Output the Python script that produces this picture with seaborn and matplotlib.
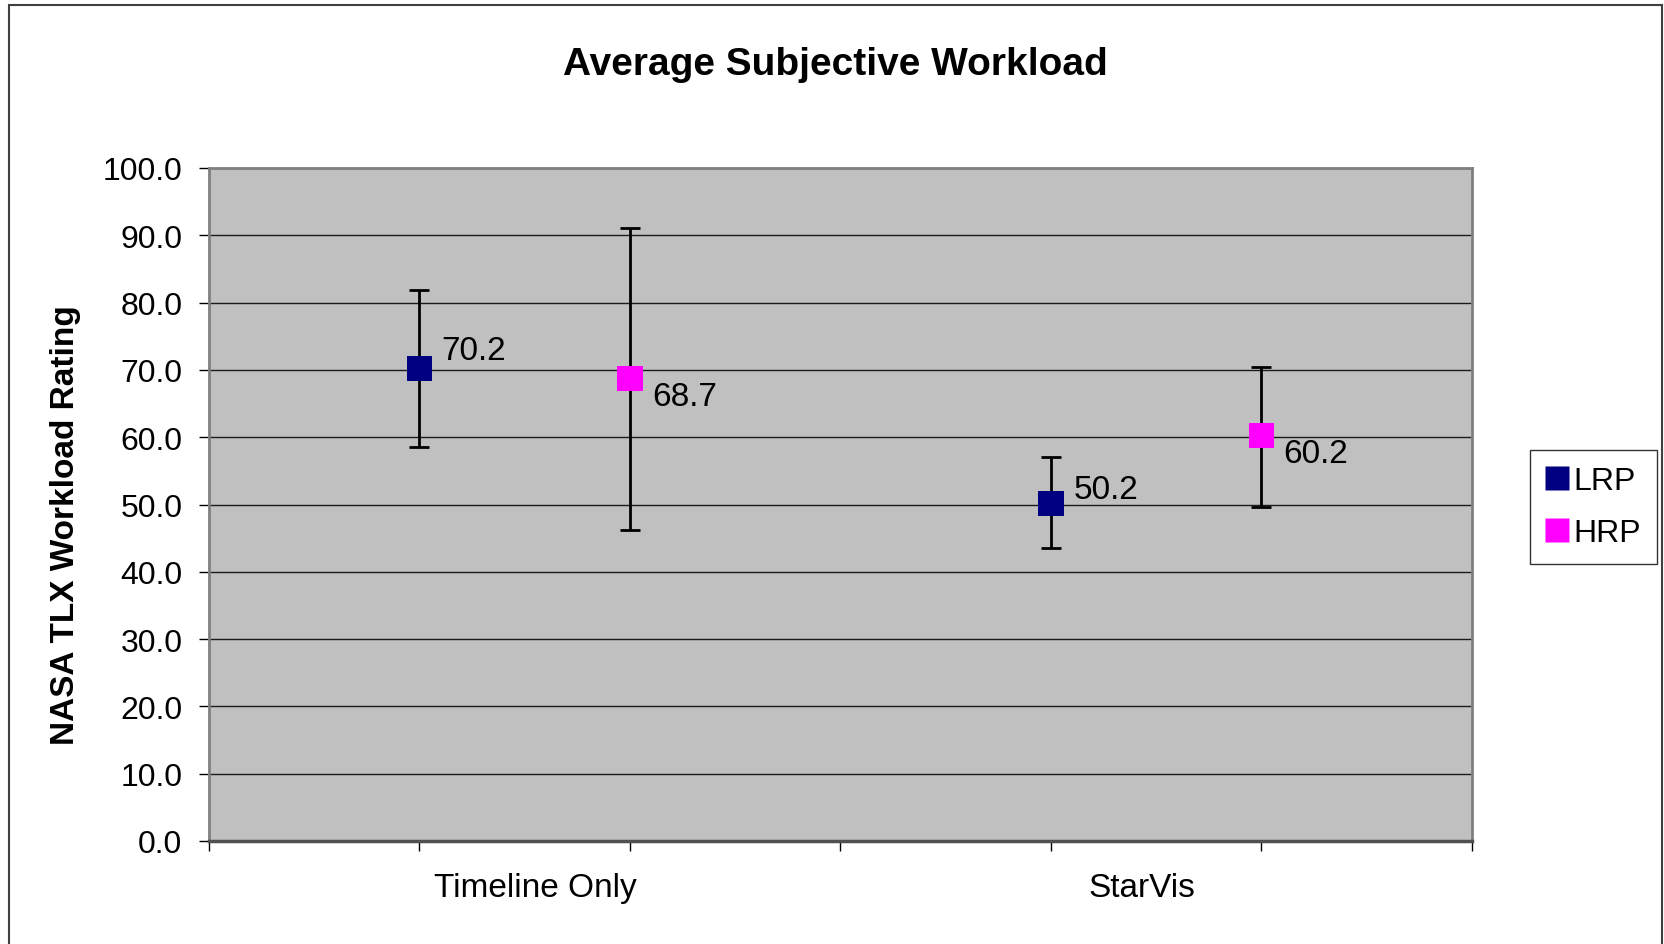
import matplotlib
matplotlib.use("Agg")
import matplotlib.pyplot as plt
from matplotlib.lines import Line2D
from matplotlib.patches import Rectangle
import pandas as pd
import seaborn as sns

# -----------------------------
# Data
# -----------------------------
conditions = ["Timeline Only", "StarVis"]
series = ["LRP", "HRP"]
lrp_mean = [70.2, 50.2]
hrp_mean = [68.7, 60.2]
lrp_low = [58.5, 43.5]
lrp_high = [81.9, 57.0]
hrp_low = [46.2, 49.6]
hrp_high = [91.1, 70.5]

colors = {"LRP": "#000080", "HRP": "#FF00FF"}

# -----------------------------
# Build a long table
# -----------------------------
rows = []
for gi, cond in enumerate(conditions):
    for si, (name, means, lows, highs) in enumerate(
        [("LRP", lrp_mean, lrp_low, lrp_high), ("HRP", hrp_mean, hrp_low, hrp_high)]
    ):
        rows.append(
            {
                "condition": cond,
                "series": name,
                "pos": gi * 3 + si + 1,
                "mean": means[gi],
                "low": lows[gi],
                "high": highs[gi],
            }
        )
df = pd.DataFrame(rows)

# -----------------------------
# Figure
# -----------------------------
sns.set_style("white")
plt.rcParams["font.family"] = ["Liberation Sans", "DejaVu Sans"]
plt.rcParams["text.color"] = "black"
plt.rcParams["xtick.color"] = "black"
plt.rcParams["ytick.color"] = "black"
plt.rcParams["axes.labelcolor"] = "black"

fig = plt.figure(figsize=(16.65, 9.45), dpi=100)
ax = fig.add_axes([209 / 1665, 1 - 842 / 945, 1263 / 1665, 673 / 945])
ax.set_facecolor("#C0C0C0")

ax.set_xlim(0, 6)
ax.set_ylim(0, 100)
ax.set_yticks(range(0, 101, 10))
ax.set_yticklabels([f"{v:.1f}" for v in range(0, 101, 10)])
ax.yaxis.grid(True, color="#1a1a1a", linewidth=1.0)
ax.set_axisbelow(True)

# error bars first, markers on top
ax.errorbar(
    df["pos"], df["mean"],
    yerr=[df["mean"] - df["low"], df["high"] - df["mean"]],
    fmt="none", ecolor="black", elinewidth=2.0, capsize=7, capthick=2.0, zorder=3,
)
sns.scatterplot(
    data=df, x="pos", y="mean", hue="series", palette=colors,
    marker="s", s=330, edgecolor="none", linewidth=0, legend=False, zorder=4, ax=ax,
)

# value labels
label_dy = [7, -19, 4, -19]
for (_, r), dy in zip(df.iterrows(), label_dy):
    ax.annotate(
        f"{r['mean']:.1f}", (r["pos"], r["mean"]), xytext=(16, dy),
        textcoords="offset points", ha="left", va="baseline", fontsize=24,
        color="black", zorder=5,
    )

# x axis: boundary ticks plus category labels
ax.set_xticks(range(0, 7))
ax.set_xticklabels([])
ax.set_xticks([1.55, 4.43], minor=True)
ax.set_xticklabels(conditions, minor=True, fontsize=24)
ax.tick_params(axis="x", which="major", direction="out", length=7.2, width=1, color="black", bottom=True)
ax.tick_params(axis="x", which="minor", length=0, pad=22)
ax.tick_params(axis="y", direction="out", length=7.2, width=1, color="black", left=True,
               labelsize=23, pad=12)
ax.set_xlabel("")
ax.set_ylabel("")

for side in ["left", "top", "right"]:
    ax.spines[side].set_color("#808080")
    ax.spines[side].set_linewidth(2)
ax.spines["bottom"].set_color("#505050")
ax.spines["bottom"].set_linewidth(2.5)

# titles
fig.text(835 / 1665, 1 - 75 / 945, "Average Subjective Workload", ha="center", va="baseline",
         fontsize=28, fontweight="bold", color="black")
fig.text(66 / 1665, 1 - 525 / 945, "NASA TLX Workload Rating", ha="center", va="center",
         rotation=90, fontsize=24, fontweight="bold", color="black")

# legend
handles = [
    Line2D([], [], linestyle="none", marker="s", markersize=17, markerfacecolor=colors[s],
           markeredgecolor="none")
    for s in series
]
leg = fig.legend(
    handles, series, loc="upper left", bbox_to_anchor=(1530 / 1665, 1 - 451 / 945),
    frameon=True, fancybox=False, fontsize=23, borderpad=0.5, labelspacing=0.7,
    handlelength=0.7, handletextpad=0.15, borderaxespad=0,
)
leg.get_frame().set_edgecolor("black")
leg.get_frame().set_linewidth(1.0)

# outer chart border
fig.patches.append(
    Rectangle((9 / 1665, -0.05), 1653 / 1665, 1.05 - 6 / 945, transform=fig.transFigure,
              fill=False, edgecolor="#404040", linewidth=1.5)
)

fig.savefig("out.png", dpi=100)
